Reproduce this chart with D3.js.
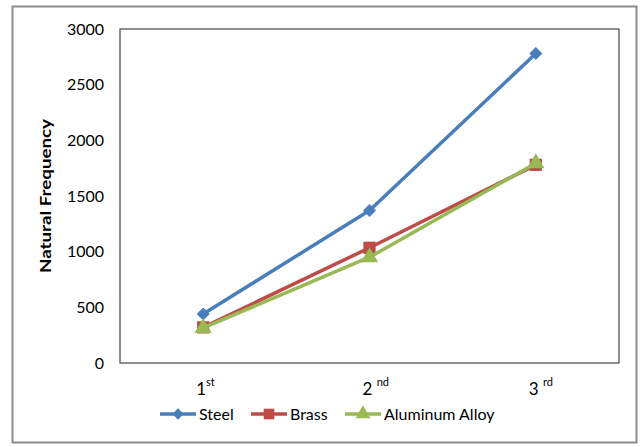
<!DOCTYPE html>
<html>
<head>
<meta charset="utf-8">
<script src="https://cdn.jsdelivr.net/npm/d3@7"></script>
<style>
  html, body { margin: 0; padding: 0; background: #fff; }
  svg text { font-family: Lato, "Open Sans", sans-serif; fill: #000; }
</style>
</head>
<body>
<svg id="chart" width="642" height="447"></svg>
<script>
// Modes and natural frequencies per material
const modes = ["1", "2", "3"];
const modeSuffix = ["st", "nd", "rd"];
const yTicks = [0, 500, 1000, 1500, 2000, 2500, 3000];
const steel = [440, 1370, 2780];
const brass = [320, 1035, 1780];
const aluminum = [315, 950, 1795];

const seriesNames = ["Steel", "Brass", "Aluminum Alloy"];
const seriesColors = ["#4a7ebb", "#be4b48", "#98b954"];
// steel uses a square turned 45 degrees (a regular diamond)
const seriesShapes = [d3.symbolSquare, d3.symbolSquare, d3.symbolTriangle];
const seriesRotate = [45, 0, 0];
const seriesSizes = [85, 150, 130];
const seriesValues = [steel, brass, aluminum];

const svg = d3.select("#chart");

// outer frame
svg.append("rect")
  .attr("x", 12.5).attr("y", 6.5).attr("width", 624).attr("height", 436)
  .attr("fill", "#fff").attr("stroke", "#8c8c8c").attr("stroke-width", 2);

const plot = { left: 120, top: 29, right: 619, bottom: 363 };

const x = d3.scaleBand().domain(modes).range([plot.left, plot.right]);
const y = d3.scaleLinear().domain([0, 3000]).range([plot.bottom, plot.top]);

// plot area border
svg.append("rect")
  .attr("x", plot.left).attr("y", plot.top)
  .attr("width", plot.right - plot.left).attr("height", plot.bottom - plot.top)
  .attr("fill", "none").attr("stroke", "#555").attr("stroke-width", 1.3);

// y axis labels
const yAxis = d3.axisLeft(y).tickValues(yTicks).tickSize(0).tickPadding(16).tickFormat(d3.format("d"));
const gy = svg.append("g").attr("transform", `translate(${plot.left},0)`).call(yAxis);
gy.select(".domain").remove();
gy.selectAll("text").style("font-size", "16px").style("font-family", "Lato, sans-serif").attr("fill", "#000");

// x axis labels with superscript ordinals
const xAxis = d3.axisBottom(x).tickSize(0).tickFormat(() => "");
const gx = svg.append("g").attr("transform", `translate(0,${plot.bottom})`).call(xAxis);
gx.select(".domain").remove();
modes.forEach((m, i) => {
  const t = svg.append("text")
    .attr("x", x(m) + x.bandwidth() / 2 - 7)
    .attr("y", 395)
    .attr("text-anchor", "start")
    .style("font-size", "17px");
  t.append("tspan").text(m + (i === 0 ? "" : " "));
  t.append("tspan").attr("dy", -9).style("font-size", "11px").text(modeSuffix[i]);
});

// axis title
svg.append("text")
  .attr("transform", "translate(51,196) rotate(-90)")
  .attr("text-anchor", "middle")
  .attr("textLength", 154)
  .attr("lengthAdjust", "spacingAndGlyphs")
  .style("font-size", "15px").style("font-weight", "bold")
  .text("Natural Frequency");

const line = d3.line()
  .x((d, i) => x(modes[i]) + x.bandwidth() / 2)
  .y(d => y(d));

seriesValues.forEach((vals, s) => {
  svg.append("path")
    .datum(vals)
    .attr("d", line)
    .attr("fill", "none")
    .attr("stroke", seriesColors[s])
    .attr("stroke-width", 3.5)
    .attr("stroke-linejoin", "round");
  svg.selectAll(null)
    .data(vals)
    .enter().append("path")
    .attr("d", d3.symbol().type(seriesShapes[s]).size(seriesSizes[s]))
    .attr("transform", (d, i) => `translate(${x(modes[i]) + x.bandwidth() / 2},${y(d)}) rotate(${seriesRotate[s]})`)
    .attr("fill", seriesColors[s]);
});

// legend
const legendItems = [
  { lx: 160, tx: 199 },
  { lx: 251, tx: 290 },
  { lx: 345, tx: 384 }
];
legendItems.forEach((p, s) => {
  const ly = 414;
  svg.append("line")
    .attr("x1", p.lx).attr("x2", p.lx + 36)
    .attr("y1", ly).attr("y2", ly)
    .attr("stroke", seriesColors[s]).attr("stroke-width", 3.5);
  svg.append("path")
    .attr("d", d3.symbol().type(seriesShapes[s]).size(seriesSizes[s] * 0.75))
    .attr("transform", `translate(${p.lx + 18},${ly}) rotate(${seriesRotate[s]})`)
    .attr("fill", seriesColors[s]);
  svg.append("text")
    .attr("x", p.tx).attr("y", ly + 6)
    .style("font-size", "16px")
    .text(seriesNames[s]);
});
</script>
</body>
</html>
